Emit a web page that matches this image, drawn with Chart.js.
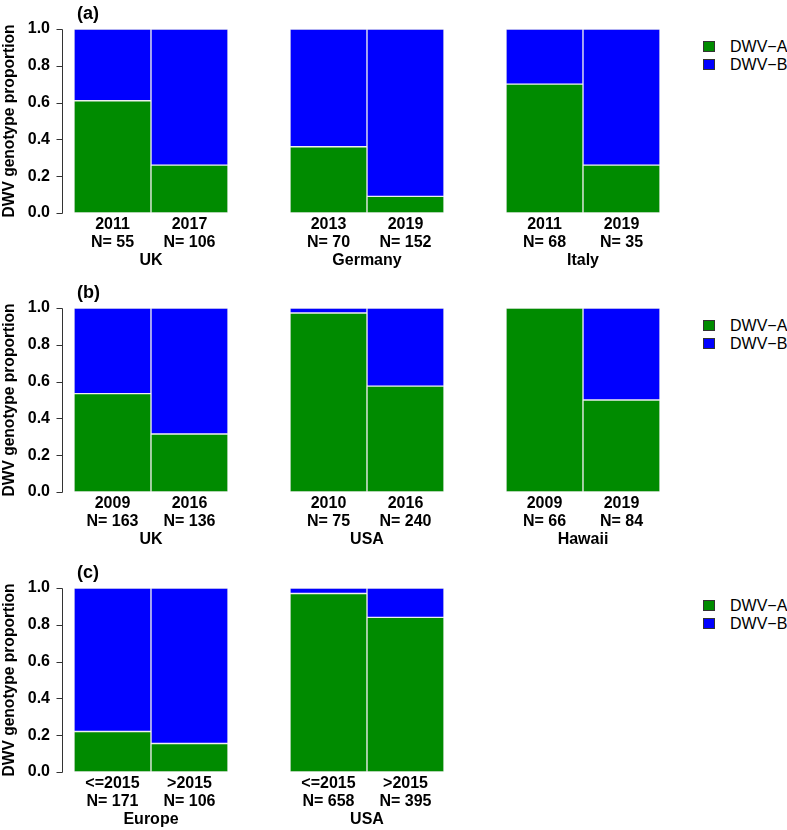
<!DOCTYPE html>
<html>
<head>
<meta charset="utf-8">
<script src="https://cdn.jsdelivr.net/npm/chart.js@4"></script>
<style>
  body { margin: 0; background: #fff; }
  #page { position: relative; width: 787px; height: 830px; font-family: "Liberation Sans", Arial, sans-serif; }
  #page canvas { position: absolute; }
  .legend { position: absolute; font-size: 16px; color: #000; }
  .legend div { position: relative; height: 18px; line-height: 18px; padding-left: 27px; white-space: nowrap; }
  .legend span { position: absolute; left: 0; top: 3px; width: 10px; height: 9px; border: 1px solid #333; }
</style>
</head>
<body>
<div id="page"></div>
<script>
// one entry per row of panels: (a), (b), (c)
var panelTags = ['(a)', '(b)', '(c)'];
var regionNames = [
    ['UK', 'Germany', 'Italy'],
    ['UK', 'USA', 'Hawaii'],
    ['Europe', 'USA']
];
var periodLabels = [
    [['2011', '2017'], ['2013', '2019'], ['2011', '2019']],
    [['2009', '2016'], ['2010', '2016'], ['2009', '2019']],
    [['<=2015', '>2015'], ['<=2015', '>2015']]
];
var sampleSizes = [
    [[55, 106], [70, 152], [68, 35]],
    [[163, 136], [75, 240], [66, 84]],
    [[171, 106], [658, 395]]
];
var dwvA = [
    [[0.61, 0.26], [0.36, 0.09], [0.70, 0.26]],
    [[0.535, 0.315], [0.973, 0.575], [1.00, 0.50]],
    [[0.22, 0.155], [0.97, 0.84]]
];
var dwvB = [
    [[0.39, 0.74], [0.64, 0.91], [0.30, 0.74]],
    [[0.465, 0.685], [0.027, 0.425], [0.00, 0.50]],
    [[0.78, 0.845], [0.03, 0.16]]
];
var seriesNames = ['DWV\u2212A', 'DWV\u2212B'];
var seriesColors = ['#008B00', '#0000FF'];
var yTicks = [0, 0.2, 0.4, 0.6, 0.8, 1.0];

// layout
var rowTops = [0, 279, 559];
var plotLefts = [74, 290, 506];
var plotW = 154, plotH = 184, plotTop = 29, xAxisH = 60;
var boldFont = { family: '"Liberation Sans", Arial, sans-serif', size: 16, weight: 'bold', lineHeight: 1.125 };
var titleFont = { family: '"Liberation Sans", Arial, sans-serif', size: 15.6, weight: 'bold', lineHeight: 1.2 };

// R-style y axis line, detached from the bars
var axisLinePlugin = {
    id: 'axisLine',
    afterDraw: function (chart) {
        var y = chart.scales.y;
        if (!y.options.display) return;
        var ctx = chart.ctx;
        var x = chart.chartArea.left - 11.5;
        ctx.save();
        ctx.strokeStyle = '#333';
        ctx.lineWidth = 1;
        ctx.beginPath();
        ctx.moveTo(x, Math.round(y.getPixelForValue(yTicks[0])) + 0.5);
        ctx.lineTo(x, Math.round(y.getPixelForValue(yTicks[yTicks.length - 1])) + 0.5);
        yTicks.forEach(function (v) {
            var py = Math.round(y.getPixelForValue(v)) + 0.5;
            ctx.moveTo(x - 6, py);
            ctx.lineTo(x, py);
        });
        ctx.stroke();
        ctx.restore();
    }
};

var panelTagPlugin = {
    id: 'panelTag',
    afterDraw: function (chart, args, opts) {
        if (!opts.text) return;
        var ctx = chart.ctx;
        ctx.save();
        ctx.font = 'bold 18px "Liberation Sans", Arial, sans-serif';
        ctx.fillStyle = '#000';
        ctx.textBaseline = 'middle';
        ctx.fillText(opts.text, chart.chartArea.left + 3, chart.chartArea.top - 15);
        ctx.restore();
    }
};

var page = document.getElementById('page');

regionNames.forEach(function (row, r) {
    row.forEach(function (region, c) {
        var first = c === 0;
        var canvasLeft = first ? 0 : plotLefts[c] - 10;
        var canvas = document.createElement('canvas');
        canvas.width = plotLefts[c] + plotW + 10 - canvasLeft;
        canvas.height = plotTop + plotH + xAxisH;
        canvas.style.left = canvasLeft + 'px';
        canvas.style.top = rowTops[r] + 'px';
        page.appendChild(canvas);

        var labels = periodLabels[r][c].map(function (p, i) {
            return [p, 'N= ' + sampleSizes[r][c][i]];
        });

        new Chart(canvas, {
            type: 'bar',
            data: {
                labels: labels,
                datasets: [
                    { label: seriesNames[0], data: dwvA[r][c], backgroundColor: seriesColors[0] },
                    { label: seriesNames[1], data: dwvB[r][c], backgroundColor: seriesColors[1] }
                ]
            },
            options: {
                responsive: false,
                animation: false,
                devicePixelRatio: 1,
                layout: { padding: { left: first ? 0 : 10, right: 10, top: plotTop, bottom: 0 } },
                datasets: {
                    bar: {
                        barPercentage: 1,
                        categoryPercentage: 1,
                        borderWidth: 1,
                        borderColor: '#eeeeee',
                        borderSkipped: false
                    }
                },
                scales: {
                    x: {
                        stacked: true,
                        grid: { display: false, drawTicks: false },
                        border: { display: false },
                        ticks: { color: '#000', font: boldFont, padding: 3, maxRotation: 0, autoSkip: false },
                        title: { display: true, text: region, color: '#000', font: boldFont, padding: { top: 0, bottom: 3 } },
                        afterFit: function (s) { s.height = xAxisH; }
                    },
                    y: {
                        display: first,
                        stacked: true,
                        min: 0,
                        max: 1,
                        afterBuildTicks: function (s) {
                            s.ticks = yTicks.map(function (v) { return { value: v }; });
                        },
                        grid: { display: false, drawTicks: false },
                        border: { display: false },
                        ticks: {
                            color: '#000',
                            font: boldFont,
                            padding: 24,
                            callback: function (v) { return Number(v).toFixed(1); }
                        },
                        title: { display: true, text: 'DWV genotype proportion', color: '#000', font: titleFont, padding: { top: 0, bottom: 0 } },
                        afterFit: function (s) {
                            if (!first) return;
                            s.width = plotLefts[0];
                            s.paddingTop = 10;
                            s.paddingBottom = 10;
                        }
                    }
                },
                plugins: {
                    legend: { display: false },
                    tooltip: { enabled: false },
                    panelTag: { text: first ? panelTags[r] : '' }
                }
            },
            plugins: [axisLinePlugin, panelTagPlugin]
        });
    });

    // legend for this row
    var legend = document.createElement('div');
    legend.className = 'legend';
    legend.style.left = '703px';
    legend.style.top = (rowTops[r] + 38) + 'px';
    seriesNames.forEach(function (name, i) {
        var item = document.createElement('div');
        var box = document.createElement('span');
        box.style.background = seriesColors[i];
        item.appendChild(box);
        item.appendChild(document.createTextNode(name));
        legend.appendChild(item);
    });
    page.appendChild(legend);
});
</script>
</body>
</html>
